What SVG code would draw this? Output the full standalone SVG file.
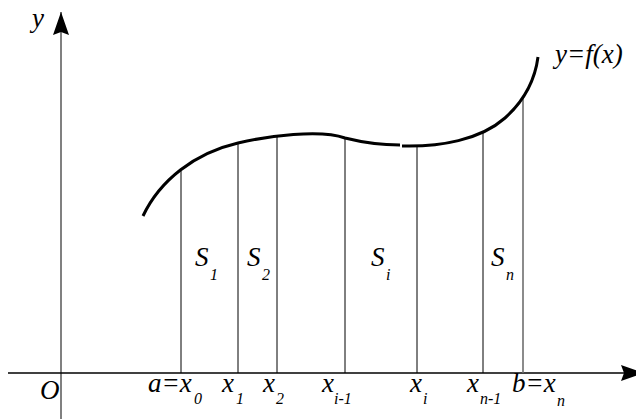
<svg xmlns="http://www.w3.org/2000/svg" width="636" height="419" viewBox="0 0 636 419">
<defs>
<marker id="ah" markerUnits="userSpaceOnUse" markerWidth="24" markerHeight="18" refX="23" refY="8" orient="auto" viewBox="0 0 24 16">
<path d="M0,0 L23,8 L0,16 L3,8 Z" fill="#000"/>
</marker>
</defs>
<g id="axes">
<line x1="61" y1="419" x2="61" y2="12" stroke="#808080" stroke-width="2" marker-end="url(#ah)"/>
<line x1="8" y1="373" x2="644" y2="373" stroke="#000" stroke-width="1.5" marker-end="url(#ah)"/>
</g>
<g id="dividers" stroke="#000" stroke-width="1" fill="none">
<line x1="181" y1="373" x2="181" y2="171"/>
<line x1="238" y1="373" x2="238" y2="144"/>
<line x1="277" y1="373" x2="277" y2="136"/>
<line x1="345" y1="373" x2="345" y2="139"/>
<line x1="417" y1="373" x2="417" y2="147"/>
<line x1="483" y1="373" x2="483" y2="133"/>
<line x1="523" y1="373" x2="523" y2="98" stroke="#6e6e6e" stroke-width="1.6"/>
</g>
<g id="curve" stroke="#000" stroke-width="3" fill="none">
<path d="M143,216 C160,180 195,153 238,143 C268,136 320,129 345,138 C365,143 385,145 400,145"/>
<path d="M402,146 C440,147 480,140 505,118 C525,100 535,80 538,57"/>
</g>
<g id="labels" font-family="Liberation Serif, Times New Roman, serif" font-style="italic" fill="#000">
<g font-size="27">
<text x="32" y="27">y</text>
<text x="555" y="63">y=f(x)</text>
<text x="40" y="399">O</text>
<text x="148" y="392">a=x</text>
<text x="222" y="392">x</text>
<text x="263" y="392">x</text>
<text x="322" y="392">x</text>
<text x="410" y="392">x</text>
<text x="467" y="392">x</text>
<text x="512" y="392">b=x</text>
<text x="195" y="266">S</text>
<text x="247" y="266">S</text>
<text x="371" y="266">S</text>
<text x="491" y="266">S</text>
</g>
<g font-size="16">
<text x="194" y="404">0</text>
<text x="236" y="404">1</text>
<text x="276" y="404">2</text>
<text x="334" y="404">i-1</text>
<text x="423" y="404">i</text>
<text x="480" y="404">n-1</text>
<text x="557" y="406">n</text>
<text x="210" y="280">1</text>
<text x="262" y="280">2</text>
<text x="386" y="280">i</text>
<text x="506" y="280">n</text>
</g>
</g>
</svg>
